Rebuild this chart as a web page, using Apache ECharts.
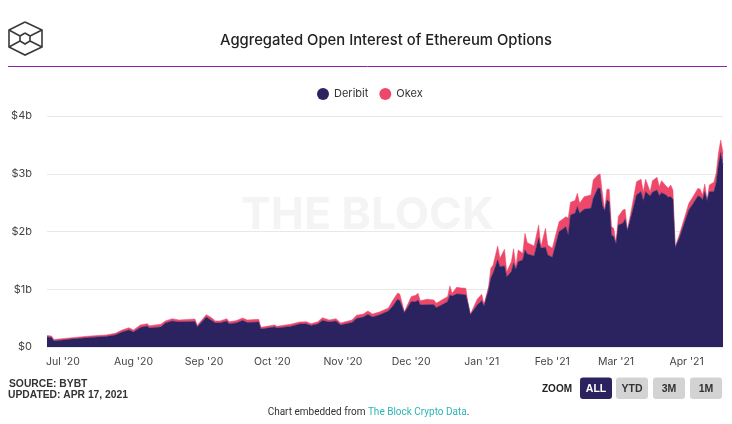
<!DOCTYPE html>
<html>
<head>
<meta charset="utf-8">
<script src="https://cdn.jsdelivr.net/npm/echarts@6/dist/echarts.min.js"></script>
<style>html,body{margin:0;padding:0;background:#fff}#c{width:732px;height:424px}</style>
</head>
<body>
<div id="c"></div>
<script>
const dates = ['2020-06-24','2020-06-26','2020-06-27','2020-07-05','2020-07-13','2020-07-20','2020-07-24','2020-07-27','2020-07-30','2020-08-01','2020-08-04','2020-08-07','2020-08-08','2020-08-13','2020-08-15','2020-08-18','2020-08-21','2020-08-28','2020-08-29','2020-09-02','2020-09-04','2020-09-06','2020-09-08','2020-09-11','2020-09-12','2020-09-15','2020-09-18','2020-09-20','2020-09-25','2020-09-26','2020-10-02','2020-10-03','2020-10-09','2020-10-13','2020-10-16','2020-10-18','2020-10-21','2020-10-23','2020-10-26','2020-10-29','2020-10-31','2020-11-05','2020-11-07','2020-11-10','2020-11-12','2020-11-14','2020-11-17','2020-11-21','2020-11-23','2020-11-25','2020-11-26','2020-11-28','2020-12-01','2020-12-03','2020-12-04','2020-12-05','2020-12-08','2020-12-11','2020-12-12','2020-12-15','2020-12-17','2020-12-18','2020-12-19','2020-12-21','2020-12-23','2020-12-25','2020-12-26','2020-12-27','2020-12-30','2021-01-01','2021-01-02','2021-01-04','2021-01-05','2021-01-06','2021-01-08','2021-01-09','2021-01-11','2021-01-12','2021-01-14','2021-01-15','2021-01-16','2021-01-17','2021-01-19','2021-01-20','2021-01-21','2021-01-24','2021-01-26','2021-01-27','2021-01-29','2021-01-30','2021-02-01','2021-02-04','2021-02-07','2021-02-08','2021-02-09','2021-02-11','2021-02-12','2021-02-13','2021-02-15','2021-02-18','2021-02-19','2021-02-21','2021-02-22','2021-02-23','2021-02-24','2021-02-25','2021-02-26','2021-02-27','2021-02-28','2021-03-01','2021-03-02','2021-03-04','2021-03-05','2021-03-06','2021-03-08','2021-03-10','2021-03-12','2021-03-13','2021-03-14','2021-03-16','2021-03-17','2021-03-19','2021-03-20','2021-03-21','2021-03-23','2021-03-24','2021-03-25','2021-03-26','2021-03-27','2021-03-29','2021-03-31','2021-04-02','2021-04-04','2021-04-06','2021-04-07','2021-04-08','2021-04-09','2021-04-10','2021-04-11','2021-04-13','2021-04-14','2021-04-15','2021-04-16','2021-04-17'];
const deribit = [.173,.165,.104,.139,.165,.182,.208,.260,.294,.260,.338,.364,.329,.346,.416,.450,.433,.442,.346,.520,.468,.416,.416,.450,.398,.416,.459,.424,.433,.312,.346,.329,.355,.398,.398,.372,.398,.459,.433,.450,.381,.424,.494,.520,.563,.520,.554,.623,.710,.826,.802,.594,.785,.785,.814,.727,.733,.733,.681,.740,.785,.901,.883,.918,.913,.901,.745,.559,.727,.802,.710,.987,1.190,1.276,1.507,1.391,1.403,1.218,1.304,1.450,1.346,1.477,1.507,1.680,1.611,1.576,1.883,1.709,1.727,1.593,1.554,1.997,2.084,1.940,2.286,2.316,2.430,2.316,2.385,2.402,2.576,2.749,2.749,2.459,2.356,2.546,2.517,1.940,1.910,1.784,2.113,2.142,2.212,2.014,2.316,2.633,2.690,2.534,2.690,2.615,2.679,2.719,2.620,2.672,2.633,2.593,2.603,2.558,1.720,1.910,2.142,2.373,2.489,2.615,2.603,2.546,2.690,2.534,2.690,2.690,2.840,3.152,3.365,3.152];
const okex = [.026,.026,.026,.023,.026,.026,.029,.035,.040,.035,.043,.040,.040,.047,.035,.040,.035,.043,.029,.040,.047,.035,.035,.040,.040,.040,.043,.043,.047,.029,.035,.029,.038,.035,.040,.031,.040,.048,.035,.040,.035,.043,.055,.052,.061,.052,.052,.052,.104,.104,.116,.017,.087,.111,.116,.074,.094,.081,.076,.087,.087,.156,.047,.116,.109,.116,.012,.007,.099,.111,.029,.057,.173,.144,.242,.145,.289,.087,.173,.253,.045,.203,.116,.289,.196,.173,.230,.028,.329,.173,.156,.173,.173,.294,.220,.219,.232,.173,.218,.230,.317,.230,.248,.208,.017,.185,.215,.144,.145,.012,.144,.230,.173,.012,.114,.230,.215,.156,.215,.074,.201,.220,.156,.208,.156,.156,.203,.161,.007,.059,.087,.116,.126,.133,.128,.087,.133,.012,.116,.163,.168,.203,.220,.213];
const seriesNames = ['Deribit','Okex'];
const yTicks = ['$0','$1b','$2b','$3b','$4b'];
const titleText = 'Aggregated Open Interest of Ethereum Options';
const zoomButtons = ['ALL','YTD','3M','1M'];

const DARK = '#2b2360', RED = '#ef4769', UI = 'Inter, "Noto Sans", sans-serif', RB = 'Roboto, sans-serif', LB = '"Liberation Sans", Arial, sans-serif';
const pair = a => a.map((v, i) => [dates[i], v]);
const logoLines = [
  [[25,22],[42,30],[42,47],[25,55],[9,47],[9,30],[25,22]],
  [[25,33],[30,36],[30,41],[25,44],[20,41],[20,36],[25,33]],
  [[9,30],[20,36]],[[42,30],[30,36]],[[9,47],[20,41]],[[42,47],[30,41]]
];
const logo = logoLines.map(pts => ({type:'polyline', shape:{points:pts}, style:{stroke:'#3a3a3a', fill:null, lineWidth:1.6}}));
const btnX = [580,616,653,690];
const btnW = [32,32,32,32];
const buttons = zoomButtons.flatMap((t,i) => [
  {type:'rect', shape:{x:btnX[i], y:377.5, width:btnW[i], height:21.5, r:3}, style:{fill:i===0?DARK:'#d3d3d3'}},
  {type:'text', x:btnX[i]+btnW[i]/2, y:389, style:{text:t, fill:i===0?'#fff':'#333', font:'bold 10.5px '+LB, align:'center', verticalAlign:'middle'}}
]);

const chart = echarts.init(document.getElementById('c'), null, {renderer:'canvas'});
chart.setOption({
  animation:false,
  title:{text:titleText, left:381, top:28, textAlign:'center', textVerticalAlign:'top', textStyle:{fontFamily:UI, fontSize:14.8, fontWeight:500, color:'#222'}},
  legend:{data:seriesNames.map(n=>({name:n,icon:'circle'})), top:83, left:312, itemWidth:12, itemHeight:12, itemGap:11, textStyle:{fontFamily:UI, fontSize:11, color:'#333'}},
  grid:{left:47, right:9, top:116, height:231},
  xAxis:{type:'time', min:'2020-06-24', max:'2021-04-17', minInterval:28*864e5, maxInterval:31*864e5,
    axisLine:{show:false}, axisTick:{show:false}, splitLine:{show:false},
    axisLabel:{formatter:"{MMM} '{yy}", fontFamily:UI, fontSize:10.5, color:'#444', margin:9, showMinLabel:false, showMaxLabel:false, hideOverlap:false}},
  yAxis:{type:'value', min:0, max:4, interval:1, axisLine:{show:false}, axisTick:{show:false},
    splitLine:{lineStyle:{color:'#e8e8e8', width:1}},
    axisLabel:{formatter:v=>yTicks[v], fontFamily:UI, fontSize:11, color:'#444', margin:15}},
  series:[
    {name:seriesNames[0], type:'line', stack:'oi', data:pair(deribit), symbol:'none', lineStyle:{width:0.5,color:DARK}, itemStyle:{color:DARK}, areaStyle:{color:DARK,opacity:1}, z:3},
    {name:seriesNames[1], type:'line', stack:'oi', data:pair(okex), symbol:'none', lineStyle:{width:0.5,color:RED}, itemStyle:{color:RED}, areaStyle:{color:RED,opacity:1}, z:2}
  ],
  graphic:[
    {type:'text', x:367.5, y:216, z:-1, style:{text:'THE BLOCK', fill:'#f4f4f4', font:'bold 44.5px '+UI, align:'center', verticalAlign:'middle'}},
    ...logo,
    {type:'line', shape:{x1:8,y1:66.5,x2:727,y2:66.5}, style:{stroke:'#8c22ad', lineWidth:1}},
    {type:'text', x:9, y:384, style:{text:'SOURCE: BYBT', fill:'#333', font:'bold 10.3px '+LB, align:'left', verticalAlign:'middle'}},
    {type:'text', x:8, y:395, style:{text:'UPDATED: APR 17, 2021', fill:'#333', font:'bold 10.3px '+LB, align:'left', verticalAlign:'middle'}},
    {type:'text', x:572, y:389, style:{text:'ZOOM', fill:'#222', font:'bold 10px '+LB, align:'right', verticalAlign:'middle'}},
    ...buttons,
    {type:'text', x:368.5, y:412.5, style:{text:'{a|Chart embedded from }{b|The Block Crypto Data}{a|.}', align:'center', verticalAlign:'middle',
      rich:{a:{fill:'#333', font:'10px '+RB}, b:{fill:'#2fb4b4', font:'10px '+RB}}}}
  ]
});
</script>
</body>
</html>
